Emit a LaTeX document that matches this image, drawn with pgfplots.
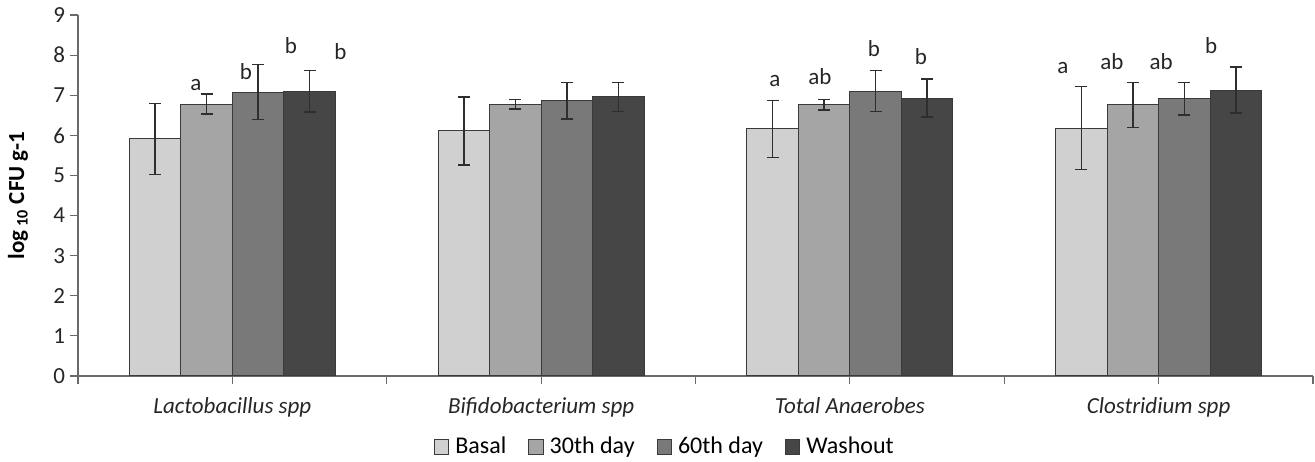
\documentclass[border=0pt]{standalone}
\usepackage{fontspec}
\setmainfont{Carlito}
\usepackage{pgfplots}
\pgfplotsset{compat=1.18}
\definecolor{c1}{HTML}{D0D0D0}
\definecolor{c2}{HTML}{A5A5A5}
\definecolor{c3}{HTML}{797979}
\definecolor{c4}{HTML}{464646}
\definecolor{edge}{HTML}{3A3A3A}
\definecolor{axisgray}{HTML}{6A6A6A}
\definecolor{errc}{HTML}{2E2E2E}
\begin{document}
\begin{tikzpicture}
\begin{axis}[
  scale only axis, width=617.5pt, height=180.5pt,
  xmin=-0.5, xmax=3.5, ymin=0, ymax=9,
  ybar=0pt, bar width=25.75pt,
  axis lines=left, axis line style={-, color=axisgray, line width=0.6pt},
  ytick={0,...,9},
  xtick={0,1,2,3},
  xticklabels={\textit{Lactobacillus spp},\textit{Bifidobacterium spp},\textit{Total Anaerobes},\textit{Clostridium spp}},
  minor xtick={-0.5,0.5,1.5,2.5,3.5},
  tick align=outside, major tick length=4pt, minor tick length=4pt,
  tick style={axisgray, line width=0.6pt},
  /pgf/number format/assume math mode=true,
  tick label style={font=\fontsize{11.5}{13}\selectfont, text=black!85},
  y tick label style={xshift=1pt},
  x tick label style={yshift=-3pt},
  ylabel={\textbf{log\,\textsubscript{10} CFU g-1}},
  ylabel style={font=\fontsize{11.5}{13}\selectfont, at={(axis description cs:-0.0486,0.5)}, anchor=center},
  legend style={at={(0.476,0)}, anchor=center, yshift=-35.5pt, draw=none,
    font=\fontsize{12}{14}\selectfont, legend columns=4,
    /tikz/every odd column/.append style={column sep=1pt},
    /tikz/every even column/.append style={column sep=9pt}},
  legend image code/.code={\draw[#1, draw=edge, line width=0.5pt] (0pt,-3.6pt) rectangle (7.2pt,3.6pt);},
  error bars/error bar style={color=errc, line width=0.7pt},
  error bars/error mark options={rotate=90, mark size=3pt, color=errc, line width=0.7pt},
]
\addplot[fill=c1, draw=edge, line width=0.5pt, error bars/.cd, y dir=both, y explicit]
  coordinates {(0,5.91) +- (0,0.89) (1,6.11) +- (0,0.85) (2,6.16) +- (0,0.71) (3,6.18) +- (0,1.03)};
\addplot[fill=c2, draw=edge, line width=0.5pt, error bars/.cd, y dir=both, y explicit]
  coordinates {(0,6.78) +- (0,0.25) (1,6.78) +- (0,0.12) (2,6.76) +- (0,0.13) (3,6.76) +- (0,0.56)};
\addplot[fill=c3, draw=edge, line width=0.5pt, error bars/.cd, y dir=both, y explicit]
  coordinates {(0,7.08) +- (0,0.69) (1,6.86) +- (0,0.45) (2,7.10) +- (0,0.51) (3,6.91) +- (0,0.40)};
\addplot[fill=c4, draw=edge, line width=0.5pt, error bars/.cd, y dir=both, y explicit]
  coordinates {(0,7.10) +- (0,0.52) (1,6.96) +- (0,0.36) (2,6.93) +- (0,0.47) (3,7.13) +- (0,0.57)};
\legend{Basal,30th day,60th day,Washout}
\begin{scope}[every node/.style={anchor=base, font=\fontsize{11.5}{13}\selectfont, text=black!85, inner sep=0pt}]
\node at (axis cs:-0.118,7.11) {a};
\node at (axis cs:0.044,7.38) {b};
\node at (axis cs:0.19,8.05) {b};
\node at (axis cs:0.35,7.90) {b};
\node at (axis cs:1.757,7.21) {a};
\node at (axis cs:1.903,7.26) {ab};
\node at (axis cs:2.078,7.96) {b};
\node at (axis cs:2.230,7.76) {b};
\node at (axis cs:2.690,7.53) {a};
\node at (axis cs:2.849,7.63) {ab};
\node at (axis cs:3.008,7.63) {ab};
\node at (axis cs:3.170,8.05) {b};
\end{scope}
\end{axis}
\pgfresetboundingbox
\path ([xshift=-39pt,yshift=-43pt]current axis.south west) rectangle ([xshift=1pt,yshift=7.5pt]current axis.north east);
\end{tikzpicture}
\end{document}
